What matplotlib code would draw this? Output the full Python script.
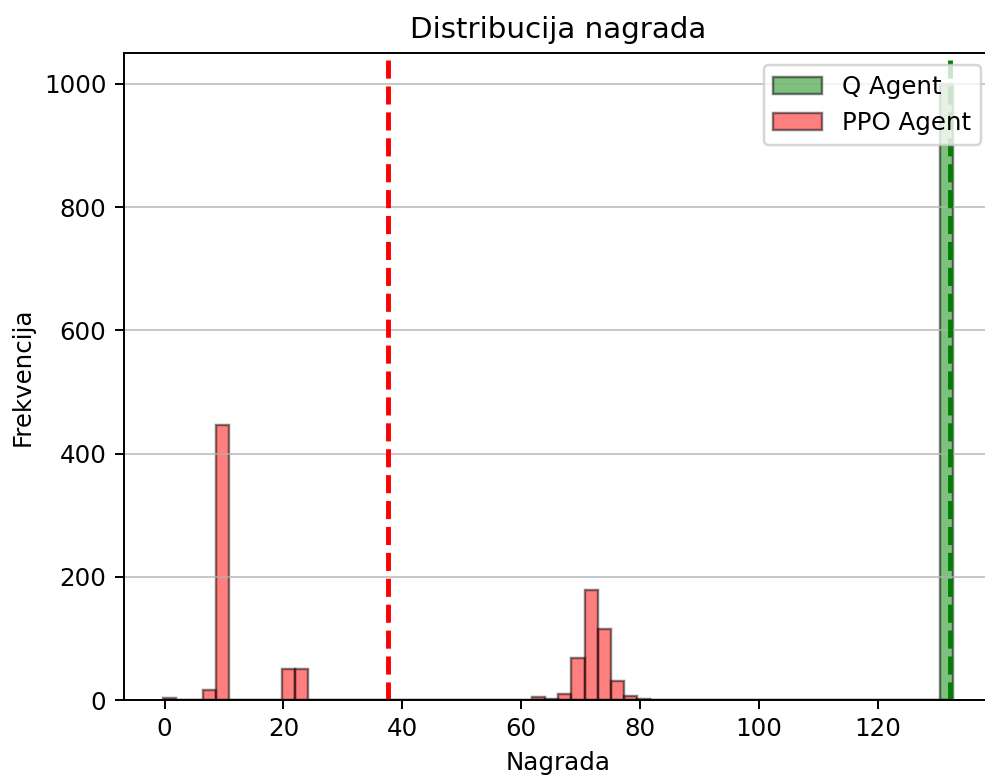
import numpy as np
import matplotlib
matplotlib.use("Agg")
import matplotlib.pyplot as plt

# shared histogram bins (60 bins over the whole reward range)
bin_lo = -0.25
bin_hi = 132.7
n_bins = 60

# PPO agent: counts per bin (bin index -> count)
ppo_bins = [0, 3, 4, 9, 10, 28, 29, 30, 31, 32, 33, 34, 35, 36]
ppo_counts = [3, 17, 446, 51, 51, 5, 2, 10, 68, 178, 115, 31, 7, 2]

# Q agent: all episodes land in the last bin
q_bins = [59]
q_counts = [1000]

ppo_mean = 37.6
q_mean = 132.2

edges = np.linspace(bin_lo, bin_hi, n_bins + 1)
centers = (edges[:-1] + edges[1:]) / 2

dpi = 176
fig = plt.figure(figsize=(985 / dpi, 776 / dpi), dpi=dpi)
ax = fig.add_axes([0.1254, 0.0979, 0.8827, 0.8338])

ax.hist(centers[q_bins], bins=edges, weights=q_counts, color='green',
        alpha=0.5, edgecolor='black', label='Q Agent')
ax.hist(centers[ppo_bins], bins=edges, weights=ppo_counts, color='red',
        alpha=0.5, edgecolor='black', label='PPO Agent')

ax.axvline(q_mean, color='green', linestyle='--', linewidth=2)
ax.axvline(ppo_mean, color='red', linestyle='--', linewidth=2)

ax.set_title('Distribucija nagrada', fontsize=12)
ax.set_xlabel('Nagrada')
ax.set_ylabel('Frekvencija')
ax.legend(loc='upper right')
ax.grid(axis='y', alpha=0.7)

fig.savefig('out.png', dpi=dpi)
